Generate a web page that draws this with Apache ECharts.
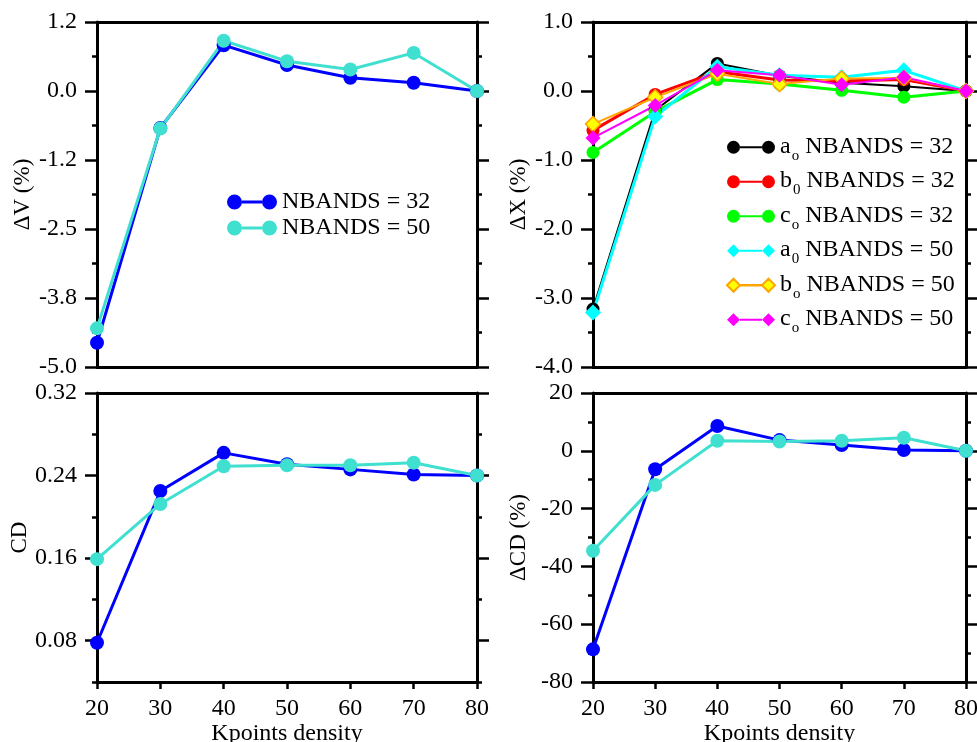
<!DOCTYPE html>
<html>
<head>
<meta charset="utf-8">
<script src="https://cdn.jsdelivr.net/npm/echarts@6/dist/echarts.min.js"></script>
<style>
  html, body { margin: 0; padding: 0; background: #fff; }
  #chart { width: 977px; height: 742px; }
</style>
</head>
<body>
<div id="chart"></div>
<script>
// shared x values (Kpoints density)
const kpoints = [20, 30, 40, 50, 60, 70, 80]

// ΔV (%)
const dV32 = [-4.56, -0.67, 0.83, 0.47, 0.24, 0.15, 0]
const dV50 = [-4.30, -0.68, 0.91, 0.54, 0.39, 0.69, 0]

// ΔX (%)
const a32 = [-3.16, -0.28, 0.40, 0.22, 0.12, 0.07, 0]
const b32 = [-0.57, -0.05, 0.28, 0.16, 0.145, 0.165, 0]
const c32 = [-0.89, -0.30, 0.165, 0.10, 0.01, -0.09, 0]
const a50 = [-3.21, -0.37, 0.35, 0.23, 0.20, 0.30, 0]
const b50 = [-0.48, -0.09, 0.25, 0.10, 0.18, 0.19, 0]
const c50 = [-0.68, -0.21, 0.30, 0.23, 0.09, 0.20, 0]

// CD
const cd32 = [0.078, 0.225, 0.262, 0.251, 0.246, 0.241, 0.24]
const cd50 = [0.159, 0.2125, 0.249, 0.25, 0.25, 0.2525, 0.24]

// ΔCD (%)
const dCD32 = [-68.7, -6.4, 8.6, 3.7, 2.0, 0.3, 0]
const dCD50 = [-34.6, -11.8, 3.5, 3.2, 3.5, 4.5, 0]

// tick labels
const xTicks = ['20', '30', '40', '50', '60', '70', '80']
const dVTicks = ['-5.0', '-3.8', '-2.5', '-1.2', '0.0', '1.2']
const dXTicks = ['-4.0', '-3.0', '-2.0', '-1.0', '0.0', '1.0']
const cdTickValues = [0.08, 0.16, 0.24, 0.32]
const cdTicks = ['0.08', '0.16', '0.24', '0.32']
const cdMinorValues = [0.04, 0.12, 0.20, 0.28]
const dCDTicks = ['-80', '-60', '-40', '-20', '0', '20']

// legend text for the ΔX panel
const xMain = ['a', 'b', 'c', 'a', 'b', 'c']
const xSub = ['o', '0', 'o', '0', 'o', 'o']
const xBands = [32, 32, 32, 50, 50, 50]
const xNames = xMain.map((m, i) => m + '_' + xSub[i] + ' NBANDS = ' + xBands[i])

const font = 'Liberation Serif'
const fs = 24
const black = '#000'

const chart = echarts.init(document.getElementById('chart'))

const pairs = arr => arr.map((v, i) => [kpoints[i], v])

const grids = [
    { left: 97, width: 380, top: 22, height: 345 },
    { left: 593, width: 373, top: 22, height: 345 },
    { left: 97, width: 380, top: 393, height: 289 },
    { left: 593, width: 373, top: 393, height: 289 }
].map(g => Object.assign(g, { containLabel: false, outerBoundsMode: 'none' }))

function xAxes (gi, labels) {
    return [
        {
            type: 'value', gridIndex: gi, position: 'bottom',
            min: 20, max: 80, interval: 10,
            axisLine: { show: true, onZero: false, lineStyle: { color: black, width: 3 } },
            axisTick: { show: labels, length: 7, lineStyle: { color: black, width: 2.5 } },
            axisLabel: {
                show: labels, margin: 15, color: black, fontFamily: font, fontSize: fs,
                formatter: v => xTicks[kpoints.indexOf(v)]
            },
            splitLine: { show: false },
            name: labels ? 'Kpoints density' : '',
            nameLocation: 'middle', nameGap: 33,
            nameTextStyle: { color: black, fontFamily: font, fontSize: fs }
        },
        {
            type: 'value', gridIndex: gi, position: 'top',
            min: 20, max: 80, interval: 10,
            axisLine: { show: true, onZero: false, lineStyle: { color: black, width: 3 } },
            axisTick: { show: false },
            axisLabel: { show: false },
            splitLine: { show: false }
        }
    ]
}

function yAxes (gi, name, min, max, interval, ticks) {
    const common = {
        type: 'value', gridIndex: gi, min: min, max: max, interval: interval,
        axisLine: { show: true, onZero: false, lineStyle: { color: black, width: 3 } },
        axisTick: { show: true, length: 12, lineStyle: { color: black, width: 2.5 } },
        minorTick: { show: true, splitNumber: 2, length: 5, lineStyle: { color: black, width: 2.5 } },
        splitLine: { show: false }
    }
    return [
        Object.assign({}, common, {
            position: 'left',
            axisLabel: {
                margin: 20, color: black, fontFamily: font, fontSize: fs,
                formatter: v => ticks[Math.round((v - min) / interval)]
            },
            name: name, nameLocation: 'middle', nameGap: 63,
            nameTextStyle: { color: black, fontFamily: font, fontSize: 23 }
        }),
        Object.assign({}, common, {
            position: 'right',
            axisLabel: { show: false }
        })
    ]
}

// CD panel: labelled ticks are not evenly placed from the axis minimum
function cdAxes () {
    const base = {
        type: 'value', gridIndex: 2, min: 0.04, max: 0.32,
        splitLine: { show: false }
    }
    return [
        Object.assign({}, base, {
            position: 'left',
            axisLine: { show: true, onZero: false, lineStyle: { color: black, width: 3 } },
            axisTick: { show: true, length: 12, customValues: cdTickValues, lineStyle: { color: black, width: 2.5 } },
            axisLabel: {
                margin: 20, color: black, fontFamily: font, fontSize: fs,
                customValues: cdTickValues,
                formatter: v => cdTicks[cdTickValues.findIndex(t => Math.abs(t - v) < 1e-6)]
            },
            name: 'CD', nameLocation: 'middle', nameGap: 63,
            nameTextStyle: { color: black, fontFamily: font, fontSize: 23 }
        }),
        Object.assign({}, base, {
            position: 'right',
            axisLine: { show: true, onZero: false, lineStyle: { color: black, width: 3 } },
            axisTick: { show: true, length: 12, customValues: cdTickValues, lineStyle: { color: black, width: 2.5 } },
            axisLabel: { show: false }
        }),
        Object.assign({}, base, {
            position: 'left',
            axisLine: { show: false },
            axisTick: { show: true, length: 5, customValues: cdMinorValues, lineStyle: { color: black, width: 2.5 } },
            axisLabel: { show: false }
        }),
        Object.assign({}, base, {
            position: 'right',
            axisLine: { show: false },
            axisTick: { show: true, length: 5, customValues: cdMinorValues, lineStyle: { color: black, width: 2.5 } },
            axisLabel: { show: false }
        })
    ]
}

const cdPair = cdAxes()
const xAxis = [].concat(xAxes(0, false), xAxes(1, false), xAxes(2, true), xAxes(3, true))
const yAxis = [].concat(
    yAxes(0, 'ΔV (%)', -5, 1.25, 1.25, dVTicks),
    yAxes(1, 'ΔX (%)', -4, 1, 1, dXTicks),
    cdPair.slice(0, 2),
    yAxes(3, 'ΔCD (%)', -80, 20, 20, dCDTicks),
    cdPair.slice(2)
)

function line (name, data, g, color, opts) {
    return Object.assign({
        name: name,
        type: 'line',
        xAxisIndex: g * 2,
        yAxisIndex: g * 2,
        data: pairs(data),
        symbol: 'circle',
        symbolSize: 14,
        clip: false,
        lineStyle: { color: color, width: 3 },
        itemStyle: { color: color, borderWidth: 0 },
        emphasis: { disabled: true }
    }, opts || {})
}

const blue = '#0000ff'
const teal = '#40e0d0'

const series = [
    line('NBANDS = 32', dV32, 0, blue),
    line('NBANDS = 50', dV50, 0, teal),

    line(xNames[0], a32, 1, '#000000', { symbolSize: 13, lineStyle: { color: '#000000', width: 2 } }),
    line(xNames[1], b32, 1, '#ff0000', { symbolSize: 13 }),
    line(xNames[2], c32, 1, '#00ff00', { symbolSize: 13 }),
    line(xNames[3], a50, 1, '#00ffff', { symbol: 'diamond', symbolSize: 16 }),
    line(xNames[4], b50, 1, '#ffa500', {
        symbol: 'diamond', symbolSize: 15,
        lineStyle: { color: '#ffa500', width: 2 },
        itemStyle: { color: '#ffff00', borderColor: '#ffa500', borderWidth: 1.5 }
    }),
    line(xNames[5], c50, 1, '#ff00ff', { symbol: 'diamond', symbolSize: 15, lineStyle: { color: '#ff00ff', width: 2 } }),

    line('NBANDS = 32', cd32, 2, blue),
    line('NBANDS = 50', cd50, 2, teal),

    line('NBANDS = 32', dCD32, 3, blue),
    line('NBANDS = 50', dCD50, 3, teal)
]

// icon: marker - line - marker
const circIcon15 = 'path://M0,7.5A7.5,7.5,0,1,1,15,7.5A7.5,7.5,0,1,1,0,7.5Z' +
    'M35,7.5A7.5,7.5,0,1,1,50,7.5A7.5,7.5,0,1,1,35,7.5Z' +
    'M15,6L35,6L35,9L15,9Z'
const circIcon13 = 'path://M0,6.5A6.5,6.5,0,1,1,13,6.5A6.5,6.5,0,1,1,0,6.5Z' +
    'M35,6.5A6.5,6.5,0,1,1,48,6.5A6.5,6.5,0,1,1,35,6.5Z' +
    'M13,5.5L35,5.5L35,7.5L13,7.5Z'
const diamIcon13 = 'path://M0,6.5L6.5,0L13,6.5L6.5,13Z' +
    'M35,6.5L41.5,0L48,6.5L41.5,13Z' +
    'M13,5.5L35,5.5L35,7.5L13,7.5Z'
const diamIconThin = 'path://M0,6.5L6.5,0L13,6.5L6.5,13Z' +
    'M35,6.5L41.5,0L48,6.5L41.5,13Z' +
    'M13,6.3L35,6.3L35,6.7L13,6.7Z'

const xIcons = [circIcon13, circIcon13, circIcon13, diamIcon13, diamIconThin, diamIcon13]

chart.setOption({
    animation: false,
    backgroundColor: '#fff',
    grid: grids,
    xAxis: xAxis,
    yAxis: yAxis,
    legend: [
        {
            left: 227, top: 189, padding: 0,
            orient: 'vertical',
            itemWidth: 50, itemHeight: 15, itemGap: 0,
            icon: circIcon15,
            selectedMode: false,
            data: ['NBANDS = 32', 'NBANDS = 50'],
            textStyle: { color: black, fontFamily: font, fontSize: fs, lineHeight: 26 }
        },
        {
            left: 726, top: 131, padding: 0,
            orient: 'vertical',
            itemWidth: 48, itemHeight: 13, itemGap: 2,
            selectedMode: false,
            data: xNames.map((n, i) => ({ name: n, icon: xIcons[i] })),
            formatter: n => {
                const i = xNames.indexOf(n)
                return '{m|' + xMain[i] + '}{s|' + xSub[i] + '}{m| NBANDS = ' + xBands[i] + '}'
            },
            textStyle: {
                color: black, fontFamily: font, fontSize: fs,
                rich: {
                    m: { color: black, fontFamily: font, fontSize: fs, lineHeight: 26, verticalAlign: 'top' },
                    s: { color: black, fontFamily: font, fontSize: 15, lineHeight: 15, padding: [17.5, 0, 0, 1] }
                }
            }
        }
    ],
    series: series
})
</script>
</body>
</html>
